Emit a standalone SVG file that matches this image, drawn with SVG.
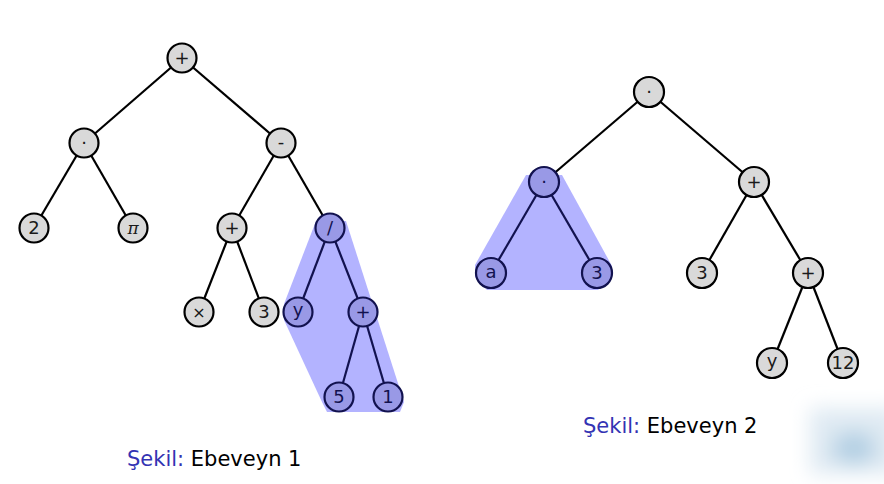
<svg xmlns="http://www.w3.org/2000/svg" width="884" height="484" viewBox="0 0 884 484">
<defs>
<style>
.e{stroke:#000;stroke-width:2.2;fill:none}
.eb{stroke:#12124f;stroke-width:2.2;fill:none}
.hl{fill:#b3b3ff}
.n circle{fill:#d9d9d9;stroke:#000;stroke-width:2.2}
.n text{fill:#1a1a1a}
.b circle{fill:#9999e6;stroke:#12124f;stroke-width:2.2}
.b text{fill:#12124f}
text{font-family:"DejaVu Sans","Liberation Sans",sans-serif;font-size:18px;text-anchor:middle}
.cap{font-family:"DejaVu Sans","Liberation Sans",sans-serif;font-size:21px;text-anchor:start}
</style>
<filter id="blur" x="-50%" y="-50%" width="200%" height="200%"><feGaussianBlur stdDeviation="10"/></filter>
</defs>
<rect width="884" height="484" fill="#fff"/>
<g id="logo" filter="url(#blur)">
<rect x="810" y="408" width="90" height="66" fill="#dfeaf3"/>
<ellipse cx="854" cy="448" rx="22" ry="16" fill="#b2cfe3"/>
</g>
<g id="highlights">
<path class="hl" d="M316,221 L284,304 L284,320 L322,402 L327,412 L400,412 L404,402 L346,221 Z"/>
<path class="hl" d="M526,175 L475,265 L475,277 L487,290 L598,290 L612,277 L612,266 L562,175 Z"/>
</g>
<g id="connectors">
<line class="e" x1="182" y1="58" x2="84" y2="143"/>
<line class="e" x1="182" y1="58" x2="281" y2="143"/>
<line class="e" x1="84" y1="143" x2="34" y2="228"/>
<line class="e" x1="84" y1="143" x2="133" y2="228"/>
<line class="e" x1="281" y1="143" x2="232" y2="228"/>
<line class="e" x1="281" y1="143" x2="330" y2="228"/>
<line class="e" x1="232" y1="228" x2="199" y2="312"/>
<line class="e" x1="232" y1="228" x2="264" y2="312"/>
<line class="eb" x1="330" y1="228" x2="298" y2="312"/>
<line class="eb" x1="330" y1="228" x2="363" y2="312"/>
<line class="eb" x1="363" y1="312" x2="339" y2="397"/>
<line class="eb" x1="363" y1="312" x2="388" y2="397"/>
<line class="e" x1="649" y1="92" x2="544" y2="182"/>
<line class="e" x1="649" y1="92" x2="754" y2="182"/>
<line class="eb" x1="544" y1="182" x2="491" y2="273"/>
<line class="eb" x1="544" y1="182" x2="597" y2="273"/>
<line class="e" x1="754" y1="182" x2="702" y2="273"/>
<line class="e" x1="754" y1="182" x2="808" y2="273"/>
<line class="e" x1="808" y1="273" x2="772" y2="363"/>
<line class="e" x1="808" y1="273" x2="843" y2="363"/>
</g>
<g id="n1" class="n"><circle cx="182" cy="58" r="14.5"/><text x="182" y="64">+</text></g>
<g id="n2" class="n"><circle cx="84" cy="143" r="14.5"/><text x="84" y="149">·</text></g>
<g id="n3" class="n"><circle cx="281" cy="143" r="14.5"/><text x="281" y="148">-</text></g>
<g id="n4" class="n"><circle cx="34" cy="228" r="14.5"/><text x="34" y="234">2</text></g>
<g id="n5" class="n"><circle cx="133" cy="228" r="14.5"/><text x="133" y="234" style="font-family:'DejaVu Serif',serif;font-size:17px;font-style:italic">π</text></g>
<g id="n6" class="n"><circle cx="232" cy="228" r="14.5"/><text x="232" y="234">+</text></g>
<g id="n7" class="b"><circle cx="330" cy="228" r="14.5"/><text x="330" y="234">/</text></g>
<g id="n8" class="n"><circle cx="199" cy="312" r="14.5"/><text x="199" y="318" style="font-size:16px">×</text></g>
<g id="n9" class="n"><circle cx="264" cy="312" r="14.5"/><text x="264" y="318">3</text></g>
<g id="n10" class="b"><circle cx="298" cy="312" r="14.5"/><text x="298" y="316">y</text></g>
<g id="n11" class="b"><circle cx="363" cy="312" r="14.5"/><text x="363" y="318">+</text></g>
<g id="n12" class="b"><circle cx="339" cy="397" r="14.5"/><text x="339" y="403">5</text></g>
<g id="n13" class="b"><circle cx="388" cy="397" r="14.5"/><text x="388" y="403">1</text></g>
<g id="m1" class="n"><circle cx="649" cy="92" r="15"/><text x="649" y="98">·</text></g>
<g id="m2" class="b"><circle cx="544" cy="182" r="15"/><text x="544" y="188">·</text></g>
<g id="m3" class="n"><circle cx="754" cy="182" r="15"/><text x="754" y="188">+</text></g>
<g id="m4" class="b"><circle cx="491" cy="273" r="15"/><text x="491" y="278">a</text></g>
<g id="m5" class="b"><circle cx="597" cy="273" r="15"/><text x="597" y="279">3</text></g>
<g id="m6" class="n"><circle cx="702" cy="273" r="15"/><text x="702" y="279">3</text></g>
<g id="m7" class="n"><circle cx="808" cy="273" r="15"/><text x="808" y="279">+</text></g>
<g id="m8" class="n"><circle cx="772" cy="363" r="15"/><text x="772" y="367">y</text></g>
<g id="m9" class="n"><circle cx="843" cy="363" r="15"/><text x="843" y="369">12</text></g>
<g id="captions">
<text class="cap" x="127" y="466"><tspan fill="#3333b3">Şekil:</tspan><tspan fill="#000"> Ebeveyn 1</tspan></text>
<text class="cap" x="583" y="433"><tspan fill="#3333b3">Şekil:</tspan><tspan fill="#000"> Ebeveyn 2</tspan></text>
</g>
</svg>
